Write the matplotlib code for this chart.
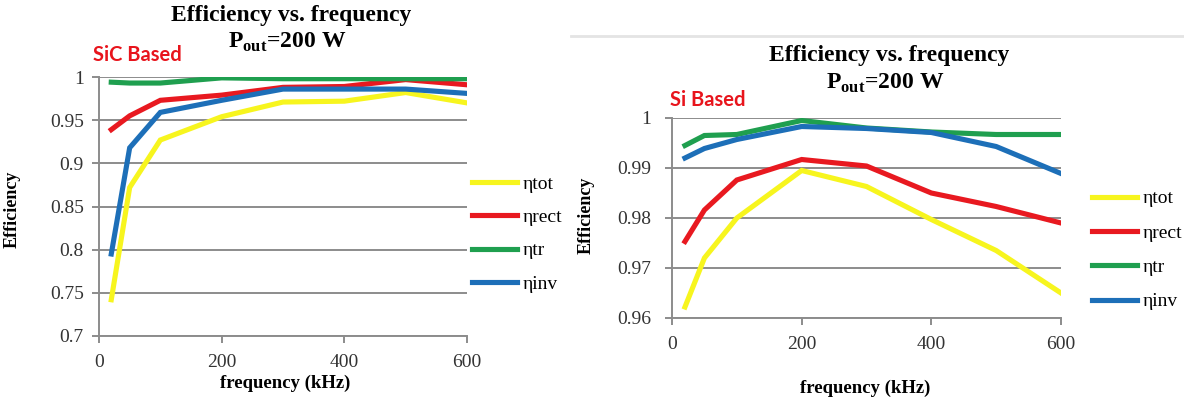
# -*- coding: utf-8 -*-
"""
Efficiency vs. frequency at Pout = 200 W, SiC based vs. Si based converter.
"""
import matplotlib
matplotlib.use("Agg")
import matplotlib.pyplot as plt
from matplotlib.lines import Line2D

# switching frequency (kHz)
freq_khz = [20, 50, 100, 200, 300, 400, 500, 600]

# SiC based
sic_tot = [0.742, 0.872, 0.927, 0.954, 0.971, 0.972, 0.982, 0.970]
sic_rect = [0.939, 0.955, 0.973, 0.979, 0.988, 0.989, 0.997, 0.991]
sic_tr = [0.994, 0.993, 0.993, 0.999, 0.998, 0.998, 0.998, 0.998]
sic_inv = [0.795, 0.918, 0.959, 0.973, 0.986, 0.986, 0.986, 0.981]

# Si based
si_tot = [0.9622, 0.9720, 0.9800, 0.9895, 0.9863, 0.9797, 0.9735, 0.9650]
si_rect = [0.9753, 0.9816, 0.9876, 0.9917, 0.9904, 0.9850, 0.9823, 0.9790]
si_tr = [0.9945, 0.9965, 0.9967, 0.9995, 0.9980, 0.9972, 0.9967, 0.9967]
si_inv = [0.9920, 0.9939, 0.9957, 0.9983, 0.9979, 0.9971, 0.9943, 0.9889]

series_labels = ["\u03b7tot", "\u03b7rect", "\u03b7tr", "\u03b7inv"]
series_colors = ["#f7f51e", "#e81920", "#1f9f4f", "#1d6fb8"]

sic_yticks = [0.7, 0.75, 0.8, 0.85, 0.9, 0.95, 1.0]
sic_yticklabels = ["0.7", "0.75", "0.8", "0.85", "0.9", "0.95", "1"]
si_yticks = [0.96, 0.97, 0.98, 0.99, 1.0]
si_yticklabels = ["0.96", "0.97", "0.98", "0.99", "1"]
xticks = [0, 200, 400, 600]

W, H = 1184, 404
GRID = "#8c8c8c"

plt.rcParams["font.family"] = ["Liberation Serif", "DejaVu Serif"]
plt.rcParams["mathtext.fontset"] = "custom"
plt.rcParams["mathtext.rm"] = "Liberation Serif"
plt.rcParams["mathtext.bf"] = "Liberation Serif:bold"


def px_box(left, top, right, bottom):
    """Pixel box -> figure fraction rect."""
    return [left / W, 1 - bottom / H, (right - left) / W, (bottom - top) / H]


def draw_panel(fig, box, series, yticks, yticklabels, ylim, ypad,
               ylabel_xy, xlabel_xy, legend_xy, labelspacing):
    ax = fig.add_axes(box)
    for vals, lab, col in zip(series, series_labels, series_colors):
        ax.plot(freq_khz, vals, color=col, lw=3.7, label=lab, solid_joinstyle="miter")

    ax.set_xlim(0, 600)
    ax.set_ylim(*ylim)
    ax.set_xticks(xticks)
    ax.set_yticks(yticks)
    ax.set_yticklabels(yticklabels)
    ax.grid(axis="y", color=GRID, lw=1.4)
    ax.set_axisbelow(True)
    for side in ("top", "right"):
        ax.spines[side].set_visible(False)
    for side in ("left", "bottom"):
        ax.spines[side].set_color(GRID)
        ax.spines[side].set_linewidth(1.4)
    ax.tick_params(axis="x", length=5, width=1.4, color=GRID, pad=8,
                   labelsize=14, labelcolor="#333333")
    ax.tick_params(axis="y", length=5, width=1.4, color=GRID, pad=ypad,
                   labelsize=14, labelcolor="#333333")

    ax.set_ylabel("Efficiency", fontsize=13, fontweight="bold")
    ax.yaxis.set_label_coords(*ylabel_xy)
    ax.set_xlabel("frequency (kHz)", fontsize=13.5, fontweight="bold")
    ax.xaxis.set_label_coords(*xlabel_xy)

    ax.legend(loc="center left", bbox_to_anchor=legend_xy,
              bbox_transform=fig.transFigure, frameon=False, fontsize=14,
              handlelength=2.3, handletextpad=0.3, labelspacing=labelspacing,
              borderpad=0, borderaxespad=0)
    return ax


def titles(fig, cx, y1, y2):
    fig.text(cx / W, 1 - y1 / H, "Efficiency vs. frequency", ha="center",
             va="center", fontsize=17, fontweight="bold")
    fig.text((cx - 4) / W, 1 - y2 / H, r"P$_{\mathbf{out}}$=200 W", ha="center",
             va="center", fontsize=17, fontweight="bold")


fig = plt.figure(figsize=(W / 100, H / 100), dpi=100)

# left: SiC
draw_panel(fig, px_box(99, 77, 467, 336),
           [sic_tot, sic_rect, sic_tr, sic_inv],
           sic_yticks, sic_yticklabels, (0.7, 1.0), 6,
           (-0.212, 0.49), (0.505, -0.15), (472 / W, 1 - 234 / H), 0.80)
titles(fig, 291, 16, 42)
fig.text(93 / W, 1 - 55 / H, "SiC Based", ha="left", va="center", color="#e8141c",
         fontsize=14.5, fontweight="bold", family=["Lato", "DejaVu Sans"])

# right: Si
draw_panel(fig, px_box(672, 118, 1061, 318),
           [si_tot, si_rect, si_tr, si_inv],
           si_yticks, si_yticklabels, (0.96, 1.0), 10,
           (-0.2, 0.515), (0.496, -0.31), (1092 / W, 1 - 250 / H), 0.86)
titles(fig, 889, 55, 83)
fig.text(670 / W, 1 - 100 / H, "Si Based", ha="left", va="center", color="#e8141c",
         fontsize=14.5, fontweight="bold", family=["Lato", "DejaVu Sans"])

# thin separator at top right
fig.add_artist(Line2D([571 / W, 1.0], [1 - 36 / H, 1 - 36 / H],
                      color="#e4e4e4", lw=2, transform=fig.transFigure))

fig.savefig("out.png", dpi=100)
